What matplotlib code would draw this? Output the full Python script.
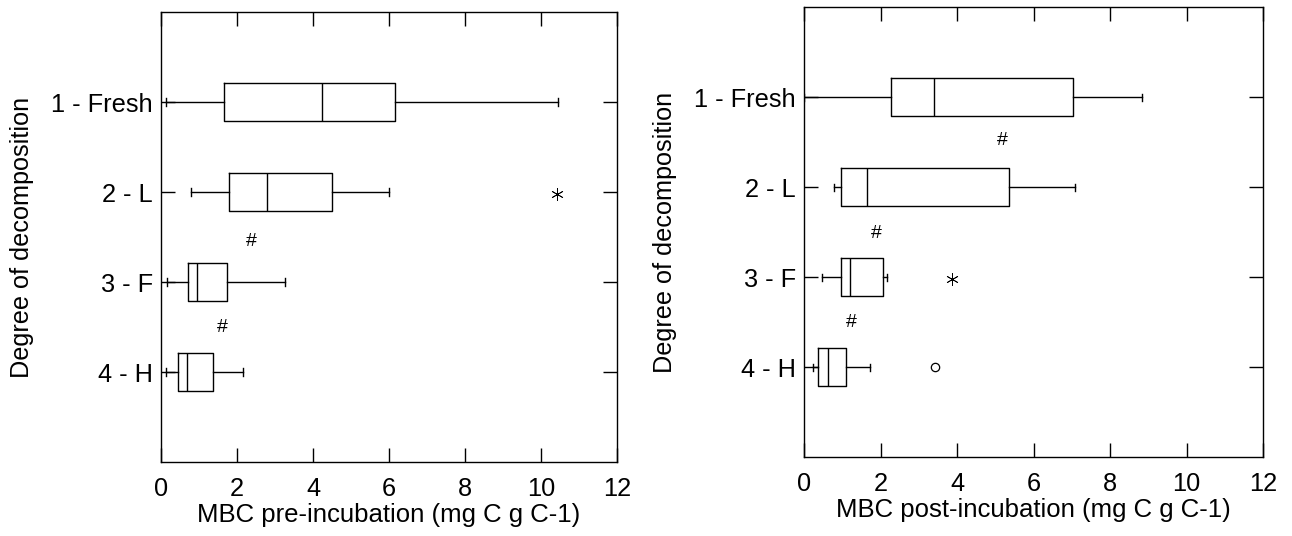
import matplotlib
matplotlib.use('Agg')
import matplotlib.pyplot as plt

plt.rcParams['font.family'] = ['Liberation Sans', 'DejaVu Sans']

cats = ['1 - Fresh', '2 - L', '3 - F', '4 - H']

# pre-incubation: whislo, q1, med, q3, whishi
pre_lo = [0.12, 0.78, 0.15, 0.12]
pre_q1 = [1.65, 1.79, 0.70, 0.44]
pre_med = [4.24, 2.78, 0.96, 0.68]
pre_q3 = [6.16, 4.50, 1.73, 1.38]
pre_hi = [10.45, 6.00, 3.26, 2.15]
pre_star = [[], [10.41], [], []]
pre_circ = [[], [], [], []]
pre_hash_x = [2.37, 1.62]
pre_hash_y = [2.55, 3.5]

# post-incubation
post_lo = [0.0, 0.78, 0.47, 0.23]
post_q1 = [2.27, 0.96, 0.97, 0.37]
post_med = [3.40, 1.65, 1.21, 0.64]
post_q3 = [7.03, 5.36, 2.07, 1.11]
post_hi = [8.83, 7.08, 2.18, 1.73]
post_star = [[], [], [3.87], []]
post_circ = [[], [], [], [3.42]]
post_hash_x = [5.19, 1.90, 1.25]
post_hash_y = [1.48, 2.51, 3.5]

fig = plt.figure(figsize=(12.92, 5.36), dpi=100)
ax1 = fig.add_axes([0.1246, 0.138, 0.353, 0.8396])
ax2 = fig.add_axes([0.6223, 0.147, 0.3553, 0.8396])


def draw(ax, lo, q1, med, q3, hi, star, circ, hx, hy, xlabel):
    stats = []
    for i in range(len(cats)):
        stats.append({'whislo': lo[i], 'q1': q1[i], 'med': med[i],
                      'q3': q3[i], 'whishi': hi[i], 'fliers': []})
    pos = list(range(1, len(cats) + 1))
    ax.bxp(stats, positions=pos, vert=False, widths=0.42, capwidths=0.08,
           showfliers=False,
           boxprops=dict(color='black', linewidth=1.0),
           medianprops=dict(color='black', linewidth=1.0),
           whiskerprops=dict(color='black', linewidth=1.0),
           capprops=dict(color='black', linewidth=1.0))
    for i in range(len(cats)):
        for v in star[i]:
            ax.plot(v, pos[i] + 0.02, marker=(6, 2, 0), color='black',
                    ms=9, mew=0.6)
        for v in circ[i]:
            ax.plot(v, pos[i], 'o', mfc='white', mec='black', ms=6, mew=0.9)
    for x, y in zip(hx, hy):
        ax.text(x, y, '#', ha='center', va='center', fontsize=14)
    ax.set_xlim(0, 12)
    ax.set_ylim(5, 0)
    ax.set_xticks([0, 2, 4, 6, 8, 10, 12])
    ax.set_yticks(pos)
    ax.set_yticklabels(cats)
    ax.tick_params(direction='in', length=10, width=1.0, labelsize=18.3,
                   top=True, right=True)
    ax.tick_params(axis='x', pad=11)
    ax.tick_params(axis='y', pad=6)
    for s in ax.spines.values():
        s.set_linewidth(1.0)
    ax.set_xlabel(xlabel, fontsize=18.5, labelpad=1)
    ax.set_ylabel('Degree of decomposition', fontsize=18.2, labelpad=12)


draw(ax1, pre_lo, pre_q1, pre_med, pre_q3, pre_hi, pre_star, pre_circ,
     pre_hash_x, pre_hash_y, 'MBC pre-incubation (mg C g C-1)')
draw(ax2, post_lo, post_q1, post_med, post_q3, post_hi, post_star, post_circ,
     post_hash_x, post_hash_y, 'MBC post-incubation (mg C g C-1)')

fig.savefig('out.png', dpi=100)
